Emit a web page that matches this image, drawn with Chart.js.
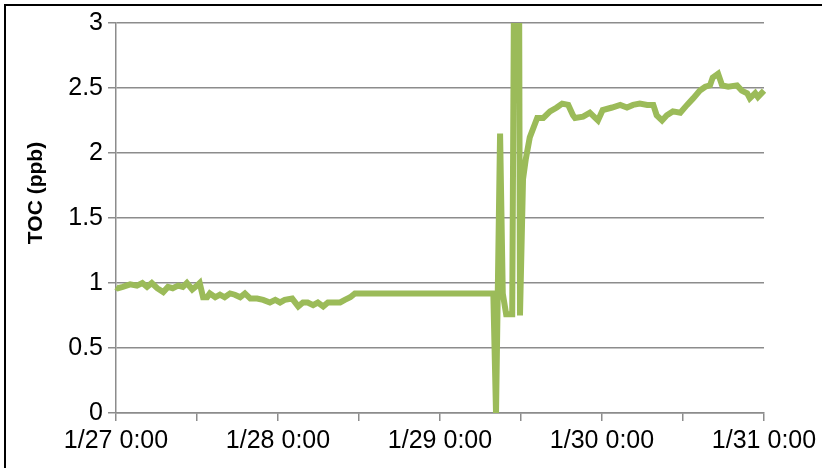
<!DOCTYPE html>
<html>
<head>
<meta charset="utf-8">
<script src="https://cdn.jsdelivr.net/npm/chart.js@4"></script>
<style>
  html, body { margin: 0; padding: 0; background: #fff; overflow: hidden; }
  #wrap { position: relative; width: 822px; height: 468px; }
  #frame { position: absolute; left: 4px; top: 4px; width: 900px; height: 600px; border: 2px solid #000; box-sizing: border-box; pointer-events: none; }
  canvas { position: absolute; left: 0; top: 0; }
</style>
</head>
<body>
<div id="wrap">
  <canvas id="tocChart" width="822" height="468"></canvas>
  <div id="frame"></div>
</div>
<script>
// hours since 1/27 0:00
const hours = [0, 0.3, 1.0, 2.1, 3.1, 3.9, 4.6, 5.3, 6.1, 7.0, 7.7, 8.4, 9.2, 9.9, 10.5, 11.3, 12.0, 12.4, 12.9, 13.5,
  13.9, 14.7, 15.4, 16.1, 16.9, 17.6, 18.4, 19.1, 19.9, 20.9, 21.8, 22.8, 23.6, 24.3, 25.0, 26.1, 27.0, 27.7, 28.4, 29.2,
  29.9, 30.7, 31.4, 32.1, 33.2, 33.9, 34.7, 35.4, 36.6, 55.9, 56.3, 56.9, 57.3, 57.8, 58.7, 59.0, 59.7, 59.85, 60.3, 60.7,
  61.3, 62.4, 63.3, 64.3, 65.3, 66.1, 67.0, 67.7, 68.0, 69.2, 70.2, 71.0, 71.4, 72.1, 73.5, 74.7, 75.7, 76.6, 77.6, 78.7,
  79.6, 80.1, 80.9, 81.6, 82.5, 83.6, 84.6, 85.5, 86.5, 87.3, 88.0, 88.4, 89.2, 89.8, 90.7, 92.0, 92.7, 93.5, 93.9, 94.7,
  95.1, 96];

const toc = [0.97, 0.96, 0.97, 0.99, 0.98, 1.0, 0.97, 1.0, 0.96, 0.93, 0.97, 0.96, 0.98, 0.97, 1.0, 0.95, 0.98, 1.0, 0.89, 0.89,
  0.92, 0.89, 0.91, 0.89, 0.92, 0.91, 0.89, 0.92, 0.88, 0.88, 0.87, 0.85, 0.87, 0.85, 0.87, 0.88, 0.82, 0.85, 0.85, 0.83,
  0.85, 0.82, 0.85, 0.85, 0.85, 0.87, 0.89, 0.92, 0.92, 0.92, 0.0, 2.15, 0.92, 0.76, 0.76, 3.6, 3.6, 0.75, 1.8, 1.95,
  2.12, 2.27, 2.27, 2.32, 2.35, 2.38, 2.37, 2.29, 2.27, 2.28, 2.31, 2.27, 2.25, 2.33, 2.35, 2.37, 2.35, 2.37, 2.38, 2.37,
  2.37, 2.29, 2.25, 2.29, 2.32, 2.31, 2.37, 2.42, 2.48, 2.51, 2.52, 2.58, 2.61, 2.52, 2.51, 2.52, 2.48, 2.46, 2.42, 2.46,
  2.43, 2.48];

const xTickLabels = ["1/27 0:00", "1/28 0:00", "1/29 0:00", "1/30 0:00", "1/31 0:00"];
const yTitle = "TOC (ppb)";

const axisGray = "#8c8c8c";
const tickFont = { family: "Arial, 'Liberation Sans', sans-serif", size: 25 };

// rotated y title, Excel puts it a bit above centre
const yTitlePlugin = {
  id: "yTitle",
  afterDraw(c) {
    const ctx = c.ctx;
    ctx.save();
    ctx.translate(36, 193);
    ctx.rotate(-Math.PI / 2);
    ctx.font = "bold 21px Arial, 'Liberation Sans', sans-serif";
    ctx.fillStyle = "#000";
    ctx.textAlign = "center";
    ctx.textBaseline = "middle";
    ctx.fillText(yTitle, 0, 0);
    ctx.restore();
  }
};

new Chart(document.getElementById("tocChart"), {
  type: "line",
  data: {
    datasets: [{
      data: hours.map((h, i) => ({ x: h, y: toc[i] })),
      borderColor: "#9bbb59",
      borderWidth: 6,
      pointRadius: 0,
      tension: 0,
      fill: false,
      clip: { left: 5, right: 5, top: 0, bottom: 5 }
    }]
  },
  options: {
    responsive: false,
    animation: false,
    layout: { padding: { left: 0, right: 58, top: 23, bottom: 0 } },
    plugins: { legend: { display: false }, tooltip: { enabled: false } },
    scales: {
      x: {
        type: "linear",
        min: 0,
        max: 96,
        afterFit(s) { s.height = 55; },
        border: { color: axisGray, width: 1.5 },
        grid: { drawOnChartArea: false, drawTicks: true, tickLength: 8, color: axisGray, lineWidth: 1.5 },
        ticks: {
          stepSize: 12,
          autoSkip: false,
          maxRotation: 0,
          padding: 5,
          color: "#000",
          font: tickFont,
          callback: v => (v % 24 === 0 ? xTickLabels[v / 24] : "")
        }
      },
      y: {
        min: 0,
        max: 3,
        afterFit(s) { s.width = 116; },
        border: { color: axisGray, width: 1.5 },
        grid: { color: axisGray, lineWidth: 1.5, tickLength: 8 },
        ticks: {
          stepSize: 0.5,
          padding: 5,
          color: "#000",
          font: tickFont,
          callback: v => String(v)
        }
      }
    }
  },
  plugins: [yTitlePlugin]
});
</script>
</body>
</html>
